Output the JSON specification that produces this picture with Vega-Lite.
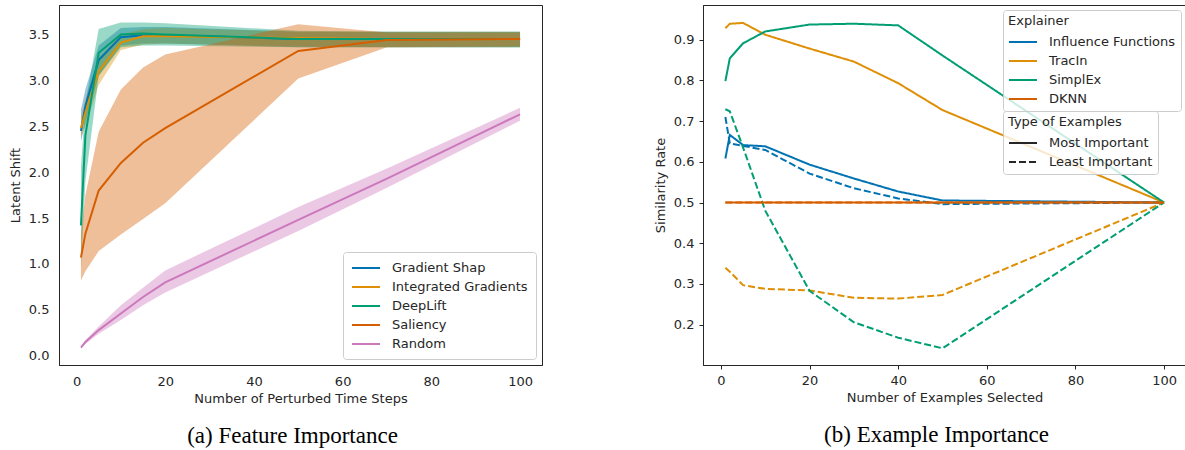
{
  "$schema": "https://vega.github.io/schema/vega-lite/v6.json",
  "padding": {"left": 8, "top": 4, "right": 0, "bottom": 0},
  "background": "white",
  "spacing": 110,
  "resolve": {"scale": {"color": "independent", "strokeDash": "independent"}, "legend": {"color": "independent", "strokeDash": "independent"}},
  "config": {
    "font": "DejaVu Sans",
    "view": {"stroke": "#262626", "strokeWidth": 1},
    "axis": {"grid": false, "domainColor": "#262626", "tickColor": "#262626", "labelColor": "#262626", "titleColor": "#262626", "labelFontSize": 13, "titleFontSize": 13, "titleFontWeight": "normal", "labelFont": "DejaVu Sans", "titleFont": "DejaVu Sans"},
    "legend": {"labelFontSize": 13, "titleFontSize": 13, "titleFontWeight": "normal", "labelColor": "#262626", "titleColor": "#262626", "labelFont": "DejaVu Sans", "titleFont": "DejaVu Sans",
               "layout": {"top-right": {"direction": "vertical", "margin": 0}}},
    "title": {"font": "Liberation Serif", "fontSize": 23, "fontWeight": "normal", "color": "black"}
  },
  "datasets": {
    "fi": [
      {"m": "Gradient Shap", "x": 1, "y": 2.45, "lo": 2.33, "hi": 2.68},
      {"m": "Gradient Shap", "x": 2, "y": 2.72, "lo": 2.55, "hi": 2.9},
      {"m": "Gradient Shap", "x": 5, "y": 3.22, "lo": 3.05, "hi": 3.38},
      {"m": "Gradient Shap", "x": 10, "y": 3.47, "lo": 3.38, "hi": 3.57},
      {"m": "Gradient Shap", "x": 15, "y": 3.49, "lo": 3.4, "hi": 3.58},
      {"m": "Gradient Shap", "x": 20, "y": 3.49, "lo": 3.4, "hi": 3.58},
      {"m": "Gradient Shap", "x": 50, "y": 3.45, "lo": 3.36, "hi": 3.53},
      {"m": "Gradient Shap", "x": 70, "y": 3.45, "lo": 3.36, "hi": 3.53},
      {"m": "Gradient Shap", "x": 100, "y": 3.45, "lo": 3.36, "hi": 3.53},
      {"m": "Integrated Gradients", "x": 1, "y": 2.48, "lo": 2.38, "hi": 2.6},
      {"m": "Integrated Gradients", "x": 2, "y": 2.65, "lo": 2.5, "hi": 2.8},
      {"m": "Integrated Gradients", "x": 5, "y": 3.1, "lo": 2.95, "hi": 3.25},
      {"m": "Integrated Gradients", "x": 10, "y": 3.41, "lo": 3.33, "hi": 3.5},
      {"m": "Integrated Gradients", "x": 15, "y": 3.48, "lo": 3.39, "hi": 3.56},
      {"m": "Integrated Gradients", "x": 20, "y": 3.48, "lo": 3.4, "hi": 3.57},
      {"m": "Integrated Gradients", "x": 50, "y": 3.46, "lo": 3.37, "hi": 3.53},
      {"m": "Integrated Gradients", "x": 70, "y": 3.45, "lo": 3.36, "hi": 3.53},
      {"m": "Integrated Gradients", "x": 100, "y": 3.45, "lo": 3.36, "hi": 3.53},
      {"m": "DeepLift", "x": 1, "y": 1.42, "lo": 0.95, "hi": 2.05},
      {"m": "DeepLift", "x": 2, "y": 2.4, "lo": 1.9, "hi": 2.75},
      {"m": "DeepLift", "x": 5, "y": 3.3, "lo": 3.05, "hi": 3.56},
      {"m": "DeepLift", "x": 10, "y": 3.5, "lo": 3.36, "hi": 3.63},
      {"m": "DeepLift", "x": 15, "y": 3.51, "lo": 3.38, "hi": 3.63},
      {"m": "DeepLift", "x": 20, "y": 3.5, "lo": 3.38, "hi": 3.62},
      {"m": "DeepLift", "x": 50, "y": 3.45, "lo": 3.36, "hi": 3.54},
      {"m": "DeepLift", "x": 70, "y": 3.45, "lo": 3.36, "hi": 3.53},
      {"m": "DeepLift", "x": 100, "y": 3.45, "lo": 3.36, "hi": 3.53},
      {"m": "Saliency", "x": 1, "y": 1.07, "lo": 0.82, "hi": 1.32},
      {"m": "Saliency", "x": 2, "y": 1.33, "lo": 0.92, "hi": 1.75},
      {"m": "Saliency", "x": 5, "y": 1.8, "lo": 1.14, "hi": 2.44},
      {"m": "Saliency", "x": 10, "y": 2.1, "lo": 1.32, "hi": 2.9},
      {"m": "Saliency", "x": 15, "y": 2.32, "lo": 1.49, "hi": 3.14},
      {"m": "Saliency", "x": 20, "y": 2.48, "lo": 1.66, "hi": 3.28},
      {"m": "Saliency", "x": 50, "y": 3.32, "lo": 3.02, "hi": 3.61},
      {"m": "Saliency", "x": 70, "y": 3.44, "lo": 3.36, "hi": 3.52},
      {"m": "Saliency", "x": 100, "y": 3.45, "lo": 3.37, "hi": 3.52},
      {"m": "Random", "x": 1, "y": 0.09, "lo": 0.09, "hi": 0.09},
      {"m": "Random", "x": 2, "y": 0.15, "lo": 0.13, "hi": 0.17},
      {"m": "Random", "x": 5, "y": 0.28, "lo": 0.24, "hi": 0.32},
      {"m": "Random", "x": 10, "y": 0.46, "lo": 0.39, "hi": 0.55},
      {"m": "Random", "x": 15, "y": 0.64, "lo": 0.55, "hi": 0.74},
      {"m": "Random", "x": 20, "y": 0.8, "lo": 0.69, "hi": 0.93},
      {"m": "Random", "x": 50, "y": 1.48, "lo": 1.36, "hi": 1.62},
      {"m": "Random", "x": 70, "y": 1.93, "lo": 1.83, "hi": 2.04},
      {"m": "Random", "x": 100, "y": 2.63, "lo": 2.56, "hi": 2.7}
    ],
    "ei": [
      {"e": "Influence Functions", "t": "Most Important", "x": 1, "y": 0.608},
      {"e": "Influence Functions", "t": "Most Important", "x": 2, "y": 0.666},
      {"e": "Influence Functions", "t": "Most Important", "x": 5, "y": 0.641},
      {"e": "Influence Functions", "t": "Most Important", "x": 10, "y": 0.638},
      {"e": "Influence Functions", "t": "Most Important", "x": 20, "y": 0.593},
      {"e": "Influence Functions", "t": "Most Important", "x": 30, "y": 0.559},
      {"e": "Influence Functions", "t": "Most Important", "x": 40, "y": 0.527},
      {"e": "Influence Functions", "t": "Most Important", "x": 50, "y": 0.505},
      {"e": "Influence Functions", "t": "Most Important", "x": 100, "y": 0.5},
      {"e": "Influence Functions", "t": "Least Important", "x": 1, "y": 0.71},
      {"e": "Influence Functions", "t": "Least Important", "x": 2, "y": 0.645},
      {"e": "Influence Functions", "t": "Least Important", "x": 5, "y": 0.639},
      {"e": "Influence Functions", "t": "Least Important", "x": 10, "y": 0.629},
      {"e": "Influence Functions", "t": "Least Important", "x": 20, "y": 0.571},
      {"e": "Influence Functions", "t": "Least Important", "x": 30, "y": 0.535},
      {"e": "Influence Functions", "t": "Least Important", "x": 40, "y": 0.51},
      {"e": "Influence Functions", "t": "Least Important", "x": 50, "y": 0.496},
      {"e": "Influence Functions", "t": "Least Important", "x": 100, "y": 0.5},
      {"e": "TracIn", "t": "Most Important", "x": 1, "y": 0.928},
      {"e": "TracIn", "t": "Most Important", "x": 2, "y": 0.939},
      {"e": "TracIn", "t": "Most Important", "x": 5, "y": 0.941},
      {"e": "TracIn", "t": "Most Important", "x": 10, "y": 0.912},
      {"e": "TracIn", "t": "Most Important", "x": 20, "y": 0.878},
      {"e": "TracIn", "t": "Most Important", "x": 30, "y": 0.846},
      {"e": "TracIn", "t": "Most Important", "x": 40, "y": 0.793},
      {"e": "TracIn", "t": "Most Important", "x": 50, "y": 0.727},
      {"e": "TracIn", "t": "Most Important", "x": 100, "y": 0.5},
      {"e": "TracIn", "t": "Least Important", "x": 1, "y": 0.34},
      {"e": "TracIn", "t": "Least Important", "x": 2, "y": 0.33},
      {"e": "TracIn", "t": "Least Important", "x": 5, "y": 0.297},
      {"e": "TracIn", "t": "Least Important", "x": 10, "y": 0.288},
      {"e": "TracIn", "t": "Least Important", "x": 20, "y": 0.284},
      {"e": "TracIn", "t": "Least Important", "x": 30, "y": 0.266},
      {"e": "TracIn", "t": "Least Important", "x": 40, "y": 0.264},
      {"e": "TracIn", "t": "Least Important", "x": 50, "y": 0.273},
      {"e": "TracIn", "t": "Least Important", "x": 100, "y": 0.5},
      {"e": "SimplEx", "t": "Most Important", "x": 1, "y": 0.798},
      {"e": "SimplEx", "t": "Most Important", "x": 2, "y": 0.854},
      {"e": "SimplEx", "t": "Most Important", "x": 5, "y": 0.891},
      {"e": "SimplEx", "t": "Most Important", "x": 10, "y": 0.92},
      {"e": "SimplEx", "t": "Most Important", "x": 20, "y": 0.937},
      {"e": "SimplEx", "t": "Most Important", "x": 30, "y": 0.939},
      {"e": "SimplEx", "t": "Most Important", "x": 40, "y": 0.935},
      {"e": "SimplEx", "t": "Most Important", "x": 50, "y": 0.861},
      {"e": "SimplEx", "t": "Most Important", "x": 100, "y": 0.5},
      {"e": "SimplEx", "t": "Least Important", "x": 1, "y": 0.729},
      {"e": "SimplEx", "t": "Least Important", "x": 2, "y": 0.724},
      {"e": "SimplEx", "t": "Least Important", "x": 5, "y": 0.635},
      {"e": "SimplEx", "t": "Least Important", "x": 10, "y": 0.48},
      {"e": "SimplEx", "t": "Least Important", "x": 20, "y": 0.283},
      {"e": "SimplEx", "t": "Least Important", "x": 30, "y": 0.206},
      {"e": "SimplEx", "t": "Least Important", "x": 40, "y": 0.168},
      {"e": "SimplEx", "t": "Least Important", "x": 50, "y": 0.142},
      {"e": "SimplEx", "t": "Least Important", "x": 100, "y": 0.5},
      {"e": "DKNN", "t": "Most Important", "x": 1, "y": 0.5},
      {"e": "DKNN", "t": "Most Important", "x": 2, "y": 0.5},
      {"e": "DKNN", "t": "Most Important", "x": 5, "y": 0.5},
      {"e": "DKNN", "t": "Most Important", "x": 10, "y": 0.5},
      {"e": "DKNN", "t": "Most Important", "x": 20, "y": 0.5},
      {"e": "DKNN", "t": "Most Important", "x": 30, "y": 0.5},
      {"e": "DKNN", "t": "Most Important", "x": 40, "y": 0.5},
      {"e": "DKNN", "t": "Most Important", "x": 50, "y": 0.5},
      {"e": "DKNN", "t": "Most Important", "x": 100, "y": 0.5},
      {"e": "DKNN", "t": "Least Important", "x": 1, "y": 0.5},
      {"e": "DKNN", "t": "Least Important", "x": 2, "y": 0.5},
      {"e": "DKNN", "t": "Least Important", "x": 5, "y": 0.5},
      {"e": "DKNN", "t": "Least Important", "x": 10, "y": 0.5},
      {"e": "DKNN", "t": "Least Important", "x": 20, "y": 0.5},
      {"e": "DKNN", "t": "Least Important", "x": 30, "y": 0.5},
      {"e": "DKNN", "t": "Least Important", "x": 40, "y": 0.5},
      {"e": "DKNN", "t": "Least Important", "x": 50, "y": 0.5},
      {"e": "DKNN", "t": "Least Important", "x": 100, "y": 0.5}
    ]
  },
  "hconcat": [
    {
      "width": 483,
      "height": 360,
      "title": {"text": "(a) Feature Importance", "orient": "bottom", "anchor": "middle", "frame": "group", "offset": 20, "dx": -8},
      "data": {"name": "fi"},
      "encoding": {
        "x": {"field": "x", "type": "quantitative", "scale": {"domain": [-3.95, 104.95], "nice": false, "zero": false},
              "axis": {"title": "Number of Perturbed Time Steps", "values": [0, 20, 40, 60, 80, 100], "tickSize": 0, "labelPadding": 10, "titlePadding": 4, "labelFlush": false}},
        "color": {"field": "m", "type": "nominal",
                  "scale": {"domain": ["Gradient Shap", "Integrated Gradients", "DeepLift", "Saliency", "Random"], "range": ["#0173b2", "#de8f05", "#029e73", "#d55e00", "#cc78bc"]},
                  "legend": {"title": null, "orient": "bottom-right", "offset": 6, "symbolType": "M-1,0H3", "symbolSize": 196, "symbolStrokeWidth": 2, "symbolOpacity": 1, "labelOffset": 25, "rowPadding": 4, "padding": 8, "strokeColor": "#cccccc", "fillColor": "rgba(255,255,255,0.8)", "cornerRadius": 3}}
      },
      "layer": [
        {"mark": {"type": "area", "opacity": 0.4},
         "encoding": {
           "y": {"field": "lo", "type": "quantitative", "scale": {"domain": [-0.1, 3.82], "nice": false, "zero": false},
                 "axis": {"title": "Latent Shift", "values": [0, 0.5, 1, 1.5, 2, 2.5, 3, 3.5], "format": ".1f", "tickSize": 0, "labelPadding": 10, "titlePadding": 6}},
           "y2": {"field": "hi"}
         }},
        {"mark": {"type": "line", "strokeWidth": 2},
         "encoding": {"y": {"field": "y", "type": "quantitative"}}}
      ]
    },
    {
      "width": 483,
      "height": 360,
      "title": {"text": "(b) Example Importance", "orient": "bottom", "anchor": "middle", "frame": "group", "offset": 20, "dx": -8},
      "data": {"name": "ei"},
      "mark": {"type": "line", "strokeWidth": 2},
      "encoding": {
        "x": {"field": "x", "type": "quantitative", "scale": {"domain": [-4.05, 104.95], "nice": false, "zero": false},
              "axis": {"title": "Number of Examples Selected", "values": [0, 20, 40, 60, 80, 100], "tickSize": 4, "labelPadding": 5, "titlePadding": 4, "labelFlush": false}},
        "y": {"field": "y", "type": "quantitative", "scale": {"domain": [0.101, 0.985], "nice": false, "zero": false},
              "axis": {"title": "Similarity Rate", "values": [0.2, 0.3, 0.4, 0.5, 0.6, 0.7, 0.8, 0.9], "format": ".1f", "tickSize": 4, "labelPadding": 5, "titlePadding": 6}},
        "color": {"field": "e", "type": "nominal",
                  "scale": {"domain": ["Influence Functions", "TracIn", "SimplEx", "DKNN"], "range": ["#0173b2", "#de8f05", "#029e73", "#d55e00"]},
                  "legend": {"title": "Explainer", "orient": "top-right", "offset": 5, "symbolType": "M-1,0H3", "symbolSize": 196, "symbolStrokeWidth": 2, "labelOffset": 25, "rowPadding": 4, "padding": 5, "titlePadding": 6, "strokeColor": "#cccccc", "fillColor": "rgba(255,255,255,0.8)", "cornerRadius": 3}},
        "strokeDash": {"field": "t", "type": "nominal",
                       "scale": {"domain": ["Most Important", "Least Important"], "range": [[1, 0], [7, 3]]},
                       "legend": {"title": "Type of Examples", "orient": "top-right", "offset": 5, "symbolType": "M-1,0H3", "symbolSize": 196, "symbolStrokeWidth": 2, "symbolStrokeColor": "#262626", "labelOffset": 25, "rowPadding": 4, "padding": 5, "titlePadding": 6, "strokeColor": "#cccccc", "fillColor": "rgba(255,255,255,0.8)", "cornerRadius": 3,
                                  "labelExpr": "datum.label + '\u00a0\u00a0\u00a0\u00a0\u00a0\u00a0'"}}
      }
    }
  ]
}
